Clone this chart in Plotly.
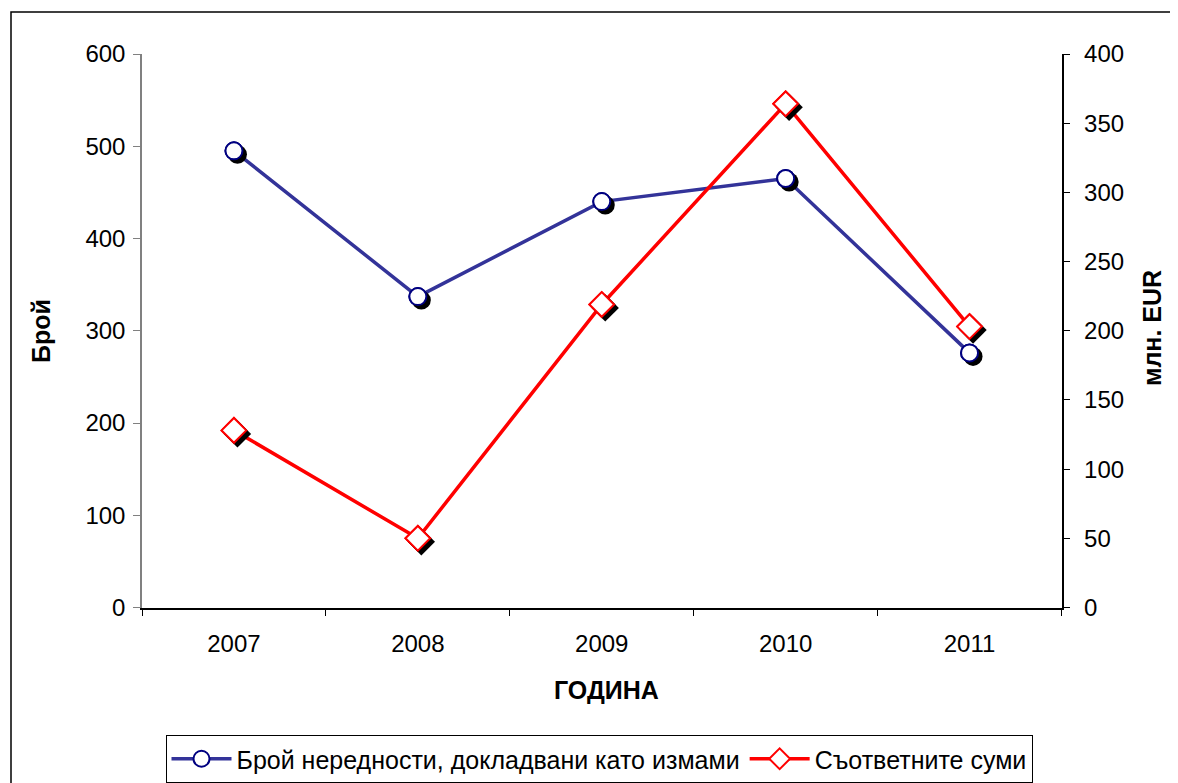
import plotly.graph_objects as go

years = ["2007", "2008", "2009", "2010", "2011"]
counts = [495, 337, 440, 465, 276]
amounts = [128, 50, 219, 364, 203]

name_counts = "Брой нередности, докладвани като измами"
name_amounts = "Съответните суми"

OFF = 8  # page body margin
W, H = 1178 - OFF, 783 - OFF
# target pixel positions in screenshot coords
PX_L, PX_R, PX_T, PX_B = 142, 1065, 54, 611
L, T = PX_L - OFF, PX_T - OFF
R = W - (PX_R - OFF)
B = H - (PX_B - OFF)
pw, ph = W - L - R, H - T - B
dx, dy = 3.5 / pw, 3.5 / ph

FONT = "Liberation Sans, Arial, sans-serif"
FS = 24
BLUE = "#333399"
NAVY = "#000080"
RED = "#FF0000"

fig = go.Figure()

# lines (base subplot)
fig.add_trace(go.Scatter(x=years, y=counts, name=name_counts, mode="lines+markers",
                         line=dict(color=BLUE, width=3.5),
                         marker=dict(symbol="circle", size=17, color="white",
                                     line=dict(color=NAVY, width=2)),
                         xaxis="x", yaxis="y"))
fig.add_trace(go.Scatter(x=years, y=amounts, name=name_amounts, mode="lines+markers",
                         line=dict(color=RED, width=3.5),
                         marker=dict(symbol="diamond", size=19, color="white",
                                     line=dict(color=RED, width=2)),
                         xaxis="x", yaxis="y2"))

# shadows
fig.add_trace(go.Scatter(x=years, y=counts, mode="markers", showlegend=False, hoverinfo="skip",
                         marker=dict(symbol="circle", size=19, color="black"),
                         xaxis="x2", yaxis="y3"))
fig.add_trace(go.Scatter(x=years, y=amounts, mode="markers", showlegend=False, hoverinfo="skip",
                         marker=dict(symbol="diamond", size=21, color="black"),
                         xaxis="x2", yaxis="y4"))

# markers on top
fig.add_trace(go.Scatter(x=years, y=counts, mode="markers", showlegend=False,
                         marker=dict(symbol="circle", size=17, color="white",
                                     line=dict(color=NAVY, width=2)),
                         xaxis="x3", yaxis="y5"))
fig.add_trace(go.Scatter(x=years, y=amounts, mode="markers", showlegend=False,
                         marker=dict(symbol="diamond", size=19, color="white",
                                     line=dict(color=RED, width=2)),
                         xaxis="x3", yaxis="y6"))

hidden = dict(visible=False, showgrid=False, zeroline=False)
main_x = [0, 1 - dx]
main_y = [dy, 1]
sh_x = [dx, 1]
sh_y = [0, 1 - dy]
xrange = [-0.5, 4.5]

fig.update_layout(
    width=W, height=H,
    margin=dict(l=L, r=R, t=T, b=B, autoexpand=False),
    paper_bgcolor="white", plot_bgcolor="rgba(0,0,0,0)",
    font=dict(family=FONT, size=FS, color="black"),
    xaxis=dict(domain=main_x, anchor="y", type="category", range=xrange,
               categoryorder="array", categoryarray=years,
               ticks="outside", tickson="boundaries", ticklen=7, tickcolor="black",
               showline=True, linecolor="black", linewidth=1.5, showgrid=False,
               tickfont=dict(size=FS), ticklabelstandoff=14, fixedrange=True),
    yaxis=dict(domain=main_y, anchor="x", range=[0, 600], dtick=100,
               ticks="outside", ticklen=7, tickcolor="#808080",
               showline=True, linecolor="#808080", linewidth=1.5, showgrid=False,
               zeroline=False, tickfont=dict(size=FS), ticklabelstandoff=3),
    yaxis2=dict(overlaying="y", side="right", anchor="x", range=[0, 400], dtick=50,
                ticks="outside", ticklen=7, tickcolor="black",
                showline=True, linecolor="black", linewidth=1.5, showgrid=False,
                zeroline=False, tickfont=dict(size=FS), ticklabelstandoff=9),
    xaxis2=dict(domain=sh_x, anchor="y3", type="category", range=xrange,
                categoryorder="array", categoryarray=years, **hidden),
    yaxis3=dict(domain=sh_y, anchor="x2", range=[0, 600], **hidden),
    yaxis4=dict(overlaying="y3", anchor="x2", range=[0, 400], **hidden),
    xaxis3=dict(domain=main_x, anchor="y5", type="category", range=xrange,
                categoryorder="array", categoryarray=years, **hidden),
    yaxis5=dict(domain=main_y, anchor="x3", range=[0, 600], **hidden),
    yaxis6=dict(overlaying="y5", anchor="x3", range=[0, 400], **hidden),
    showlegend=True,
)

def px_x(p):
    return (p - OFF - L) / pw

def px_y(p):
    return (H - B - (p - OFF)) / ph

fig.update_layout(legend=dict(orientation="h", x=px_x(599), xanchor="center",
                              y=px_y(735), yanchor="top",
                              bordercolor="black", borderwidth=1, bgcolor="white",
                              itemwidth=60,
                              font=dict(size=25)))

ann = dict(xref="paper", yref="paper", showarrow=False, xanchor="center",
           yanchor="middle", font=dict(size=25))
fig.add_annotation(text="<b>Брой</b>", x=px_x(41), y=px_y(331), textangle=-90, **ann)
fig.add_annotation(text="<b>млн. EUR</b>", x=px_x(1152), y=px_y(328), textangle=-90, **ann)
fig.add_annotation(text="<b>ГОДИНА</b>", x=px_x(606), y=px_y(690), **ann)

fig.add_shape(type="rect", xref="paper", yref="paper",
              x0=px_x(11), x1=px_x(1176), y0=px_y(12), y1=px_y(800),
              line=dict(color="black", width=1.5), fillcolor="rgba(0,0,0,0)")

fig.write_html("out.html")
